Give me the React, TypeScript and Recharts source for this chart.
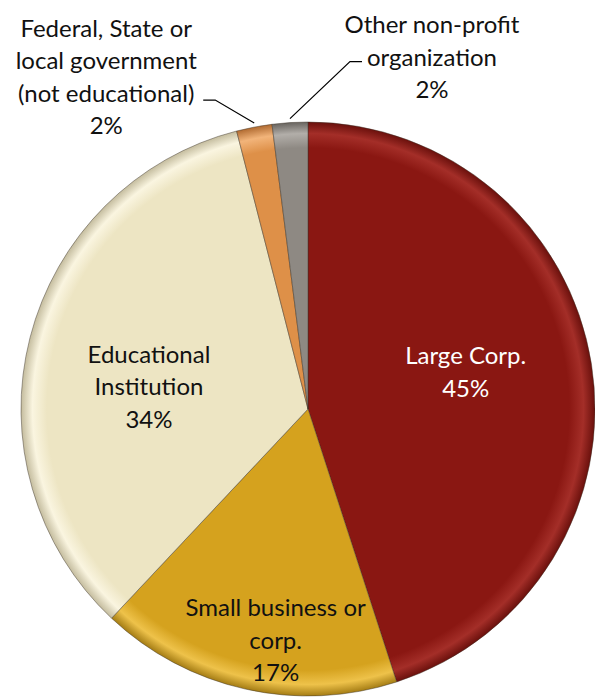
import React from "react";
import { PieChart, Pie, Cell } from "recharts";

const categories = [
  "Large Corp.",
  "Small business or corp.",
  "Educational Institution",
  "Federal, State or local government (not educational)",
  "Other non-profit organization",
];
const shares = [45, 17, 34, 2, 2];
const labelLines = [
  ["Large Corp."],
  ["Small business or", "corp."],
  ["Educational", "Institution"],
  ["Federal, State or", "local government", "(not educational)"],
  ["Other non-profit", "organization"],
];
const colors = ["#8A1712", "#D5A21E", "#EDE5C3", "#DE9048", "#8E8983"];
const rimLight = ["#A42E28", "#EEC24A", "#FAF5E0", "#F2B47A", "#B2AEA9"];
const rimDark = ["#6A100C", "#A47C14", "#C4BC9E", "#B06A30", "#68645F"];
const textColors = ["#FFFFFF", "#111111", "#111111", "#111111", "#111111"];

const data = categories.map((name, i) => ({ name, value: shares[i] }));

const W = 595;
const H = 700;
const CX = 308;
const CY = 409;
const R = 287;
const FONT = "Lato, 'Open Sans', sans-serif";
const FS = 24;
const LH = 32.5;

// label placement rules: inside labels (radius factor + angle shift), outside labels (elbow offsets)
const placement: any[] = [
  { kind: "in", rf: 0.565, da: 4.5 },
  { kind: "in", rf: 0.81, da: 4.6 },
  { kind: "in", rf: 0.56, da: 6.1 },
  { kind: "out", ex: -39, ey: -23, hx: -12, tx: -97, ty: -73 },
  { kind: "out", ex: 60, ey: -57, hx: 12, tx: 70, ty: -38 },
];

const RAD = Math.PI / 180;

const renderLabel = (props: any) => {
  const { cx, cy, midAngle, outerRadius, percent, index } = props;
  const p = placement[index];
  const lines = [...labelLines[index], `${Math.round(percent * 100)}%`];
  const fill = textColors[index];
  if (p.kind === "in") {
    const a = (midAngle + p.da) * RAD;
    const x = cx + outerRadius * p.rf * Math.cos(a);
    const y = cy - outerRadius * p.rf * Math.sin(a);
    const top = y - ((lines.length - 1) * LH) / 2;
    return (
      <g key={`lab-${index}`}>
        {lines.map((t, k) => (
          <text
            key={k}
            x={x}
            y={top + k * LH}
            textAnchor="middle"
            dominantBaseline="central"
            fill={fill}
            fontFamily={FONT}
            fontSize={FS}
          >
            {t}
          </text>
        ))}
      </g>
    );
  }
  const a = midAngle * RAD;
  const sx = cx + outerRadius * Math.cos(a);
  const sy = cy - outerRadius * Math.sin(a) - 4;
  const ex = sx + p.ex;
  const ey = sy + p.ey;
  const hx = ex + p.hx;
  const tx = hx + p.tx;
  const ty = ey + p.ty;
  return (
    <g key={`lab-${index}`}>
      <polyline
        points={`${sx},${sy} ${ex},${ey} ${hx},${ey}`}
        fill="none"
        stroke="#000"
        strokeWidth={1.2}
      />
      {lines.map((t, k) => (
        <text
          key={k}
          x={tx}
          y={ty + k * LH}
          textAnchor="middle"
          dominantBaseline="central"
          fill="#111"
          fontFamily={FONT}
          fontSize={FS}
        >
          {t}
        </text>
      ))}
    </g>
  );
};

export default function App() {
  return (
    <div style={{ position: "absolute", left: 0, top: 0, width: W, height: H, background: "#fff" }}>
      <PieChart width={W} height={H} margin={{ top: 0, right: 0, bottom: 0, left: 0 }}>
        <defs>
          {colors.map((c, i) => (
            <radialGradient
              key={i}
              id={`g${i}`}
              gradientUnits="userSpaceOnUse"
              cx={CX}
              cy={CY}
              r={R}
            >
              <stop offset="0%" stopColor={c} />
              <stop offset="91%" stopColor={c} />
              <stop offset="96%" stopColor={rimLight[i]} />
              <stop offset="100%" stopColor={rimDark[i]} />
            </radialGradient>
          ))}
        </defs>
        <Pie
          data={data}
          dataKey="value"
          nameKey="name"
          cx={CX}
          cy={CY}
          outerRadius={R}
          innerRadius={0}
          startAngle={90}
          endAngle={-270}
          stroke="rgba(60,50,40,0.45)"
          strokeWidth={1}
          label={renderLabel}
          labelLine={false}
          isAnimationActive={false}
        >
          {data.map((d, i) => (
            <Cell key={d.name} fill={`url(#g${i})`} />
          ))}
        </Pie>
      </PieChart>
    </div>
  );
}
